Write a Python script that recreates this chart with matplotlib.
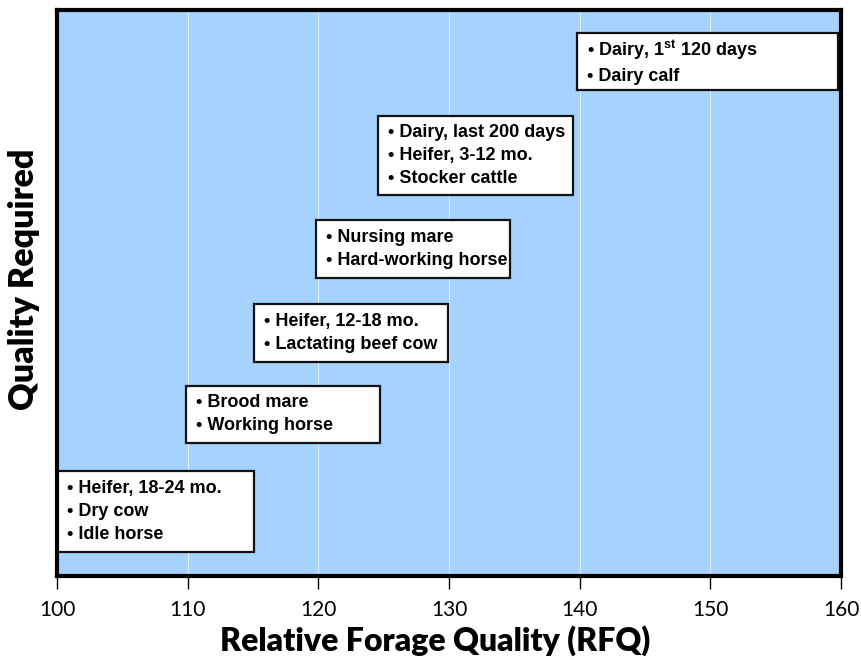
import matplotlib.pyplot as plt
from matplotlib.patches import Rectangle

plt.rcParams['mathtext.fontset'] = 'custom'
plt.rcParams['mathtext.rm'] = 'Liberation Sans:bold'

# boxes: RFQ range on x, quality range (0-100) on y
groups = [
    ['Heifer, 18-24 mo.', 'Dry cow', 'Idle horse'],
    ['Brood mare', 'Working horse'],
    ['Heifer, 12-18 mo.', 'Lactating beef cow'],
    ['Nursing mare', 'Hard-working horse'],
    ['Dairy, last 200 days', 'Heifer, 3-12 mo.', 'Stocker cattle'],
    [r'Dairy, 1$^{\rm st}$ 120 days', 'Dairy calf'],
]
x_lo = [100.0, 109.9, 115.1, 119.8, 124.6, 139.8]
x_hi = [115.1, 124.7, 129.9, 134.7, 139.5, 159.8]
y_lo = [4.2, 23.5, 37.8, 52.7, 67.3, 85.9]
y_hi = [18.6, 33.6, 48.1, 62.9, 81.3, 95.9]

xticks = [100, 110, 120, 130, 140, 150, 160]

fig = plt.figure(figsize=(8.61, 6.6), dpi=100)
ax = fig.add_axes([0.0662, 0.1273, 0.9106, 0.8575])
ax.set_facecolor('#a6d2ff')
ax.set_xlim(100, 160)
ax.set_ylim(0, 100)

for xv in xticks[1:-1]:
    ax.axvline(xv, color='white', lw=0.8, alpha=0.6, zorder=1)

for g, x0, x1, y0, y1 in zip(groups, x_lo, x_hi, y_lo, y_hi):
    ax.add_patch(Rectangle((x0, y0), x1 - x0, y1 - y0, facecolor='white',
                           edgecolor='#111111', lw=1.6, zorder=3))
    txt = '\n'.join('\u2022 ' + s for s in g)
    ax.text(x0 + 0.75, (y0 + y1) / 2, txt, ha='left', va='center',
            family='Liberation Sans', weight='bold',
            fontsize=13, linespacing=1.45, zorder=4)

for s in ax.spines.values():
    s.set_linewidth(3)
    s.set_zorder(5)

ax.set_xticks(xticks)
ax.set_yticks([])
ax.tick_params(axis='x', length=9, width=1, direction='out', pad=8,
               labelsize=15)
for lb in ax.get_xticklabels():
    lb.set_family('Lato')

ax.set_xlabel('Relative Forage Quality (RFQ)', family='Lato', weight='heavy',
              fontsize=23)
ax.xaxis.set_label_coords(0.482, -0.086)
ax.set_ylabel('Quality Required', family='Lato', weight='heavy',
              fontsize=24.5)
ax.yaxis.set_label_coords(-0.022, 0.525)

fig.savefig('out.png', dpi=100)
